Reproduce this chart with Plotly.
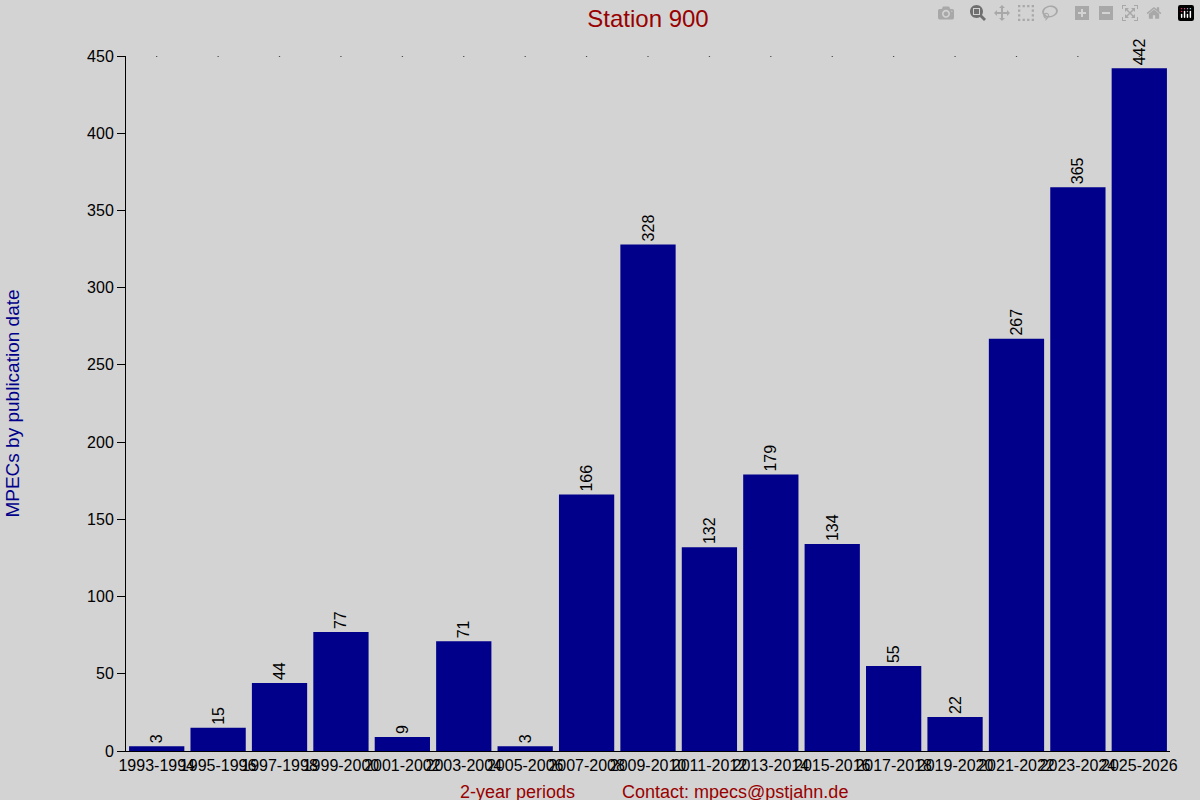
import plotly.graph_objects as go

periods = ['1993-1994', '1995-1996', '1997-1998', '1999-2000', '2001-2002',
           '2003-2004', '2005-2006', '2007-2008', '2009-2010', '2011-2012',
           '2013-2014', '2015-2016', '2017-2018', '2019-2020', '2021-2022',
           '2023-2024', '2025-2026']
mpecs = [3, 15, 44, 77, 9, 71, 3, 166, 328, 132, 179, 134, 55, 22, 267, 365, 442]

font = 'Liberation Sans, Arial, sans-serif'
bg = '#d3d3d3'

fig = go.Figure()
fig.add_trace(go.Bar(
    x=list(range(len(periods))), y=mpecs, width=0.9,
    marker={'color': '#00008b', 'line': {'width': 0}},
    text=[str(v) for v in mpecs], textposition='outside', textangle=-90,
    textfont={'family': font, 'size': 16, 'color': 'black'},
    cliponaxis=False,
))
# tiny top ticks at each category
fig.add_trace(go.Scatter(
    x=list(range(len(periods))), y=[450] * len(periods), mode='markers',
    marker={'color': 'black', 'size': 1.5}, hoverinfo='skip',
))

fig.update_layout(
    width=1200, height=800,
    paper_bgcolor=bg, plot_bgcolor=bg,
    margin=dict(l=126, r=30, t=56, b=49),
    showlegend=False,
    title={'text': 'Station 900', 'x': 0.54, 'xanchor': 'center', 'y': 0.977,
           'yanchor': 'middle',
           'font': {'family': font, 'size': 24, 'color': '#990000'}},
    xaxis={'range': [-0.5, len(periods) - 0.5], 'tickmode': 'array',
           'tickvals': list(range(len(periods))), 'ticktext': periods,
           'showgrid': False, 'zeroline': False, 'showline': True,
           'linecolor': 'black', 'ticks': '', 'tickangle': 0,
           'tickfont': {'family': font, 'size': 16, 'color': 'black'}},
    yaxis={'range': [0, 450], 'dtick': 50, 'showgrid': False,
           'zeroline': False, 'showline': True, 'linecolor': 'black',
           'ticks': 'outside', 'ticklen': 8, 'tickcolor': 'black',
           'tickfont': {'family': font, 'size': 16, 'color': 'black'},
           'title': {'text': 'MPECs by publication date', 'standoff': 62,
                     'font': {'family': font, 'size': 19,
                              'color': '#00008b'}}},
    bargap=0.1,
    annotations=[
        dict(text='2-year periods', x=0.375, y=-0.042, xref='paper',
             yref='paper', xanchor='center', yanchor='top', showarrow=False,
             font={'family': font, 'size': 18, 'color': '#990000'}),
        dict(text='Contact: mpecs@pstjahn.de', x=0.583, y=-0.042,
             xref='paper', yref='paper', xanchor='center', yanchor='top',
             showarrow=False,
             font={'family': font, 'size': 18, 'color': '#990000'}),
    ],
)

fig.write_html('out.html',
               post_script="document.body.style.margin='0';"
                           "document.body.style.overflow='hidden';")
